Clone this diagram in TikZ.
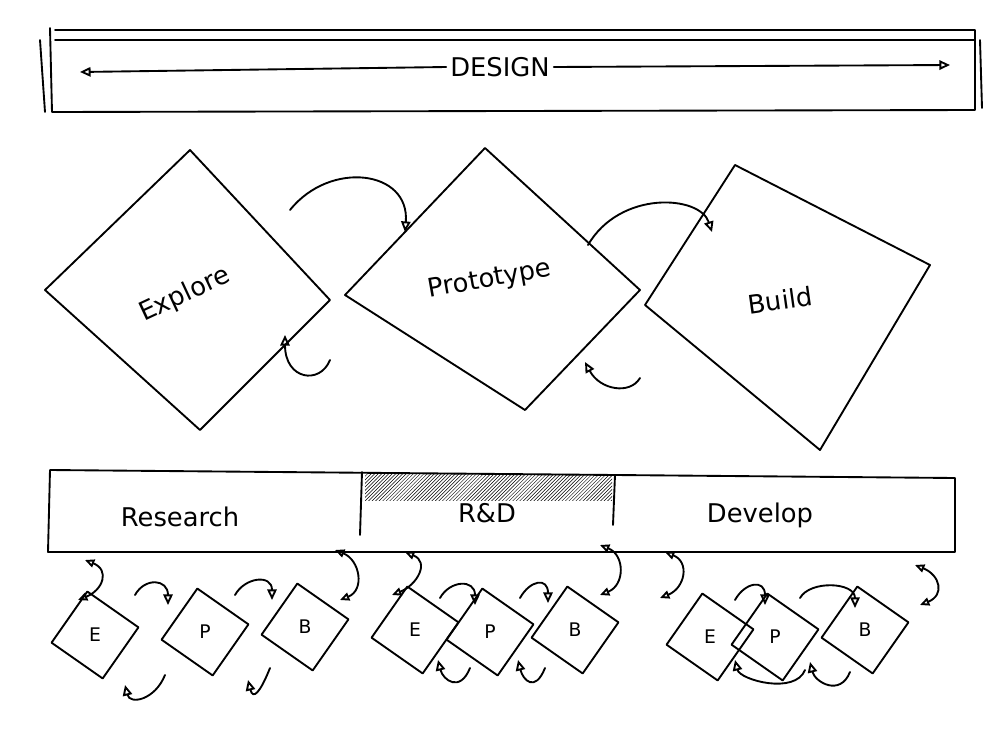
\documentclass[tikz,border=0pt]{standalone}
\usepackage{fontspec}
\setmainfont{DejaVu Sans}
\usetikzlibrary{arrows.meta,shapes.geometric,patterns}
\tikzset{pen/.style={line width=1.6pt,line join=round,line cap=round},
 tip/.style={-{Triangle[open,length=9pt,width=8pt]}},
 lab/.style={font=\fontsize{22}{24}\selectfont},
 slab/.style={font=\fontsize{16}{18}\selectfont}}
\begin{document}
\begin{tikzpicture}[x=0.3mm,y=-0.3mm]
\useasboundingbox (0,0) rectangle (1000,743);
% top bar
\draw[pen] (55,30) -- (975,30) (55,40) -- (975,40) (50,28) -- (52,112) -- (975,110) -- (975,30) (40,40)--(45,112) (980,40)--(982,108);
\node[lab] (design) at (500,67) {DESIGN};
\coordinate (dl) at (80,72); \coordinate (dr) at (950,65);
\draw[pen,tip] (design.west) -- (dl);
\draw[pen,tip] (design.east) -- (dr);
% big diamonds
\draw[pen] (45,290) -- (190,150) -- (330,300) -- (200,430) -- cycle;
\draw[pen] (345,295) -- (485,148) -- (640,290) -- (525,410) -- cycle;
\draw[pen] (645,305) -- (735,165) -- (930,265) -- (820,450) -- cycle;
\node[lab,rotate=25] (ex) at (185,295) {Explore};
\node[lab,rotate=10] (pr) at (490,280) {Prototype};
\node[lab,rotate=8] (bu) at (780,300) {Build};
\coordinate (a1s) at (290,210); \coordinate (a1e) at (405,232);
\draw[pen,tip] (a1s) .. controls (330,160) and (410,170) .. (a1e);
\coordinate (a2s) at (588,245); \coordinate (a2e) at (712,232);
\draw[pen,tip] (a2s) .. controls (620,190) and (700,195) .. (a2e);
\coordinate (a3s) at (330,360); \coordinate (a3e) at (285,335);
\draw[pen,tip] (a3s) .. controls (320,385) and (285,380) .. (a3e);
\coordinate (a4s) at (640,378); \coordinate (a4e) at (585,362);
\draw[pen,tip] (a4s) .. controls (630,395) and (600,390) .. (a4e);
% bottom bar
\draw[pen] (50,470) -- (955,478) -- (955,552) -- (48,552) -- cycle;
\draw[pen] (362,472) -- (360,535) (615,475) -- (613,525);
\fill[pattern=north east lines] (365,474) rectangle (612,500);
\node[lab] (re) at (180,517) {Research};
\node[lab] (rd) at (487,513) {R\&D};
\node[lab] (de) at (760,515) {Develop};
% small diamonds
\foreach \n/\x/\y/\t in {e1/95/635/E,p1/205/632/P,b1/305/627/B,e2/415/630/E,p2/490/632/P,b2/575/630/B,e3/710/637/E,p3/775/637/P,b3/865/630/B}{
 \node[pen,draw,diamond,rotate=10,minimum width=76pt,minimum height=76pt,inner sep=0] (\n) at (\x,\y) {};
 \node[slab] at (\x,\y) {\t};
}
% arrows between small diamonds
\foreach \ax/\ay/\bx/\by in {135/595/168/605,235/595/272/600,440/598/475/605,520/598/548/603,735/600/765/605,800/598/855/608}{
 \draw[pen,tip] (\ax,\ay) .. controls (\ax+10,\ay-18) and (\bx,\by-26) .. (\bx,\by);
}
\foreach \ax/\ay/\bx/\by in {165/675/125/685,270/668/248/680,470/668/438/660,545/668/518/660,805/670/735/660,850/672/810/662}{
 \draw[pen,tip] (\ax,\ay) .. controls (\ax-10,\ay+25) and (\bx+5,\by+20) .. (\bx,\by);
}
% bar to diamond double arrows
\foreach \ax/\ay/\bx/\by in {85/560/78/600,335/550/340/600,405/552/392/595,600/545/600/595,665/552/660/598,915/565/920/605}{
 \draw[pen,{Triangle[open,length=8pt,width=7pt]}-{Triangle[open,length=8pt,width=7pt]}] (\ax,\ay) .. controls (\ax+25,\ay+10) and (\bx+25,\by-10) .. (\bx,\by);
}
\end{tikzpicture}
\end{document}
